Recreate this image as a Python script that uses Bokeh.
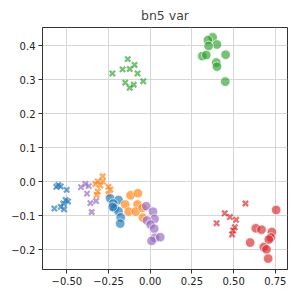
from bokeh.plotting import figure
from bokeh.models import FixedTicker, CustomJSTickFormatter, Range1d
from bokeh.embed import file_html
from bokeh.resources import INLINE

groups = ["blue", "orange", "green", "red", "purple"]
colors = {"blue": "#1f77b4", "orange": "#ff7f0e", "green": "#2ca02c", "red": "#d62728", "purple": "#9467bd"}

# "x" markers (first variant)
x_blue_x = [-0.551, -0.537, -0.501, -0.563, -0.507, -0.521, -0.493, -0.537, -0.575, -0.517]
y_blue_x = [-0.010, -0.014, -0.024, -0.015, -0.054, -0.064, -0.058, -0.074, -0.079, -0.081]
x_orange_x = [-0.285, -0.315, -0.285, -0.329, -0.299, -0.251, -0.239, -0.315, -0.251, -0.321]
y_orange_x = [0.016, 0.001, 0.001, -0.007, -0.011, -0.015, -0.023, -0.029, -0.037, -0.039]
x_green_x = [-0.135, -0.094, -0.166, -0.123, -0.227, -0.076, -0.150, -0.099, -0.123, -0.042]
y_green_x = [0.360, 0.343, 0.330, 0.331, 0.318, 0.318, 0.291, 0.285, 0.276, 0.295]
x_red_x = [0.571, 0.447, 0.478, 0.515, 0.398, 0.507, 0.497, 0.491]
y_red_x = [-0.064, -0.093, -0.104, -0.112, -0.122, -0.134, -0.143, -0.155]
x_purple_x = [-0.415, -0.389, -0.369, -0.379, -0.359, -0.325, -0.351]
y_purple_x = [-0.016, -0.007, -0.013, -0.035, -0.063, -0.057, -0.089]

# "o" markers (second variant)
x_blue_o = [-0.240, -0.190, -0.222, -0.213, -0.190, -0.177, -0.180, -0.225]
y_blue_o = [-0.049, -0.054, -0.064, -0.078, -0.087, -0.105, -0.123, -0.074]
x_orange_o = [-0.118, -0.074, -0.150, -0.076, -0.129, -0.087, -0.046, -0.044]
y_orange_o = [-0.040, -0.034, -0.067, -0.067, -0.088, -0.088, -0.077, -0.106]
x_green_o = [0.374, 0.346, 0.400, 0.350, 0.312, 0.336, 0.452, 0.396, 0.400, 0.450]
y_green_o = [0.424, 0.416, 0.403, 0.399, 0.369, 0.372, 0.373, 0.350, 0.338, 0.294]
x_red_o = [0.755, 0.633, 0.667, 0.729, 0.723, 0.711, 0.599, 0.681, 0.697, 0.707]
y_red_o = [-0.083, -0.137, -0.141, -0.148, -0.164, -0.170, -0.179, -0.192, -0.199, -0.226]
x_purple_o = [-0.024, 0.016, 0.026, -0.020, 0.002, 0.024, 0.028, 0.008, 0.060]
y_purple_o = [-0.072, -0.088, -0.109, -0.114, -0.126, -0.138, -0.165, -0.174, -0.163]

x_ticks = [-0.5, -0.25, 0.0, 0.25, 0.5, 0.75]
y_ticks = [-0.2, -0.1, 0.0, 0.1, 0.2, 0.3, 0.4]

xs_x = {"blue": x_blue_x, "orange": x_orange_x, "green": x_green_x, "red": x_red_x, "purple": x_purple_x}
ys_x = {"blue": y_blue_x, "orange": y_orange_x, "green": y_green_x, "red": y_red_x, "purple": y_purple_x}
xs_o = {"blue": x_blue_o, "orange": x_orange_o, "green": x_green_o, "red": x_red_o, "purple": x_purple_o}
ys_o = {"blue": y_blue_o, "orange": y_orange_o, "green": y_green_o, "red": y_red_o, "purple": y_purple_o}

p = figure(frame_width=245, frame_height=242, output_backend="svg", toolbar_location=None,
           x_range=Range1d(-0.646, 0.823), y_range=Range1d(-0.258, 0.453),
           min_border_left=42, min_border_right=3, min_border_top=20, min_border_bottom=25,
           title="bn5 var")
p.title.align = "center"
p.title.text_font = "DejaVu Sans"
p.title.text_font_size = "12.5px"
p.title.text_font_style = "normal"

for g in groups:
    p.scatter(xs_x[g], ys_x[g], marker="x", size=7.5, line_color=colors[g], line_width=2.3, line_alpha=0.65)
for g in groups:
    p.scatter(xs_o[g], ys_o[g], marker="circle", size=9.5, fill_color=colors[g], fill_alpha=0.65,
              line_color="white", line_width=0.8, line_alpha=0.8)

p.xaxis.ticker = FixedTicker(ticks=x_ticks)
p.yaxis.ticker = FixedTicker(ticks=y_ticks)
p.xaxis.formatter = CustomJSTickFormatter(code="return tick.toFixed(2).replace('-', '\u2212');")
p.yaxis.formatter = CustomJSTickFormatter(code="return tick.toFixed(1).replace('-', '\u2212');")
for ax in (p.xaxis, p.yaxis):
    ax.major_label_text_font = "DejaVu Sans"
    ax.major_label_text_font_size = "10px"
    ax.major_label_text_color = "#222222"
    ax.minor_tick_line_color = None
    ax.major_tick_out = 4
    ax.major_tick_in = 0
    ax.axis_line_color = "#333333"
    ax.major_tick_line_color = "#333333"
    ax.major_label_standoff = 3
p.outline_line_color = "#333333"
p.outline_line_alpha = 1
p.grid.grid_line_color = "#d6d6d6"
p.grid.grid_line_width = 1

open("out.html", "w").write(file_html(p, INLINE))
